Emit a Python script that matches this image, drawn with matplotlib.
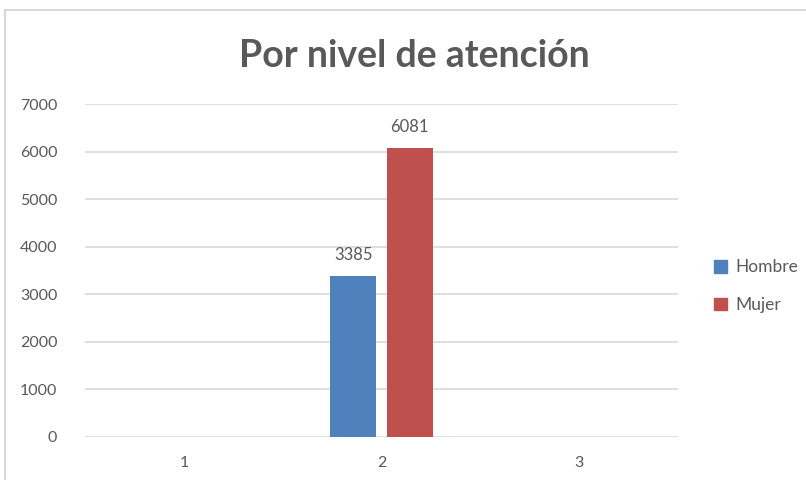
import matplotlib.pyplot as plt
import matplotlib.patches as mpatches
import numpy as np

# data
categories = ["1", "2", "3"]
hombre = [np.nan, 3385, np.nan]
mujer = [np.nan, 6081, np.nan]
series_names = ["Hombre", "Mujer"]
colors = ["#4F81BD", "#C0504D"]

plt.rcParams["font.family"] = ["Lato", "DejaVu Sans"]
text_color = "#595959"

fig = plt.figure(figsize=(8.06, 4.8), dpi=100)
ax = fig.add_axes([0.1055, 0.0896, 0.7357, 0.6937])

x = np.arange(len(categories))
w = 0.233
off = 0.142
bars1 = ax.bar(x - off, hombre, w, color=colors[0], label=series_names[0], zorder=3)
bars2 = ax.bar(x + off, mujer, w, color=colors[1], label=series_names[1], zorder=3)

for bars, vals in [(bars1, hombre), (bars2, mujer)]:
    for b, v in zip(bars, vals):
        if np.isnan(v):
            continue
        ax.annotate(f"{int(v)}", (b.get_x() + b.get_width() / 2, v),
                    xytext=(0, 9), textcoords="offset points",
                    ha="center", va="bottom", fontsize=12, color=text_color)

ax.set_xlim(-0.5, 2.5)
ax.set_ylim(0, 7000)
ax.set_yticks(range(0, 7001, 1000))
ax.set_xticks(x)
ax.set_xticklabels(categories)
ax.grid(axis="y", color="#D9D9D9", linewidth=1.2, zorder=0)
for s in ax.spines.values():
    s.set_visible(False)
ax.tick_params(length=0, labelsize=11.5, labelcolor=text_color)
ax.tick_params(axis="x", pad=14)
ax.tick_params(axis="y", pad=20)

fig.text(0.514, 0.860, "Por nivel de atención", ha="center", va="baseline",
         fontsize=27, fontweight="bold", color=text_color)

handles = [mpatches.Patch(color=c, label=n) for c, n in zip(colors, series_names)]
fig.legend(handles=handles, loc="center left", bbox_to_anchor=(0.866, 0.404),
           frameon=False, fontsize=12.5, handlelength=0.75, handleheight=0.75,
           handletextpad=0.5, labelspacing=1.25, labelcolor=text_color)

# chart frame
fig.patches.append(mpatches.Rectangle((5 / 806, -0.1), 1.2, 1.1 - 10 / 480,
                                      transform=fig.transFigure, fill=False,
                                      edgecolor="#D9D9D9", linewidth=1.5))

fig.savefig("out.png", dpi=100)
